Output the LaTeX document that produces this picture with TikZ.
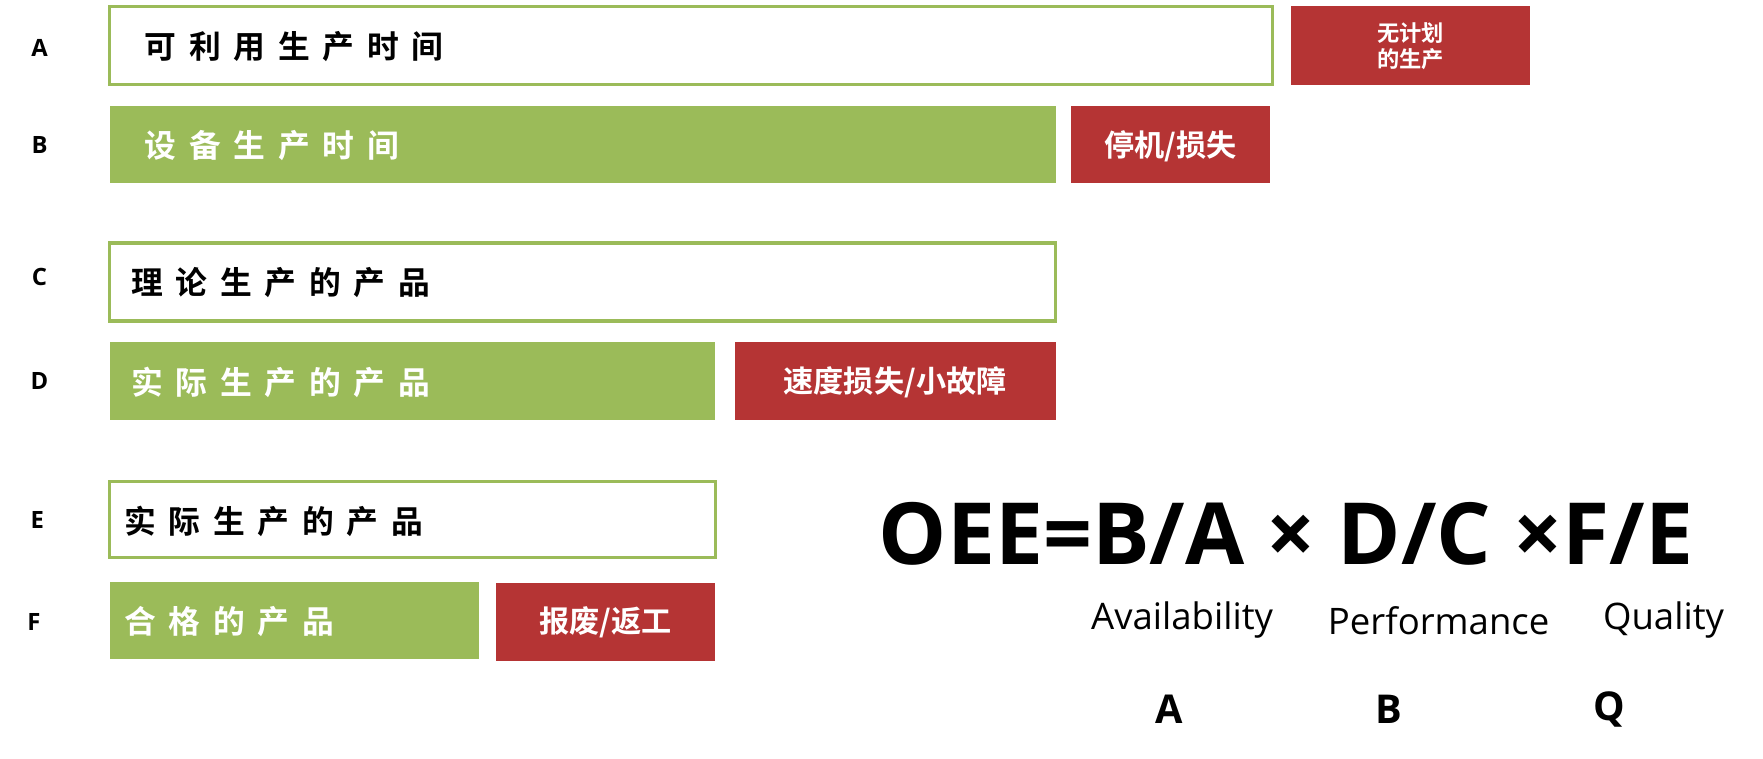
\documentclass[tikz,border=0pt]{standalone}
\usepackage{fontspec}
\setmainfont{Open Sans}
\newfontfamily\cjk{Noto Sans CJK SC}[BoldFont=* Bold]
\newfontfamily\cjksp{Noto Sans CJK SC Bold}[LetterSpace=40]
\definecolor{gr}{HTML}{9BBB59}
\definecolor{rd}{HTML}{B53434}
\begin{document}
\begin{tikzpicture}[x=0.05cm,y=-0.05cm,
  wbox/.style={draw=gr,line width=4pt,fill=white},
  gbox/.style={fill=gr},
  rbox/.style={fill=rd},
  lbl/.style={font=\fontsize{30}{36}\selectfont\bfseries},
  btxt/.style={anchor=west,font=\fontsize{40}{48}\selectfont\cjksp,inner sep=0},
  rtxt/.style={text=white,font=\fontsize{38}{44}\selectfont\cjk\bfseries,align=center,inner sep=0},
  sub/.style={font=\fontsize{46}{54}\selectfont},
  abq/.style={font=\fontsize{50}{60}\selectfont\bfseries}]
\useasboundingbox (0,0) rectangle (1560,671);
% row A
\draw[wbox] (97,6) rectangle (1126,75);
\node[btxt] (ta) at (128,41) {可利用生产时间};
\fill[rbox] (1142,5) rectangle (1354,75);
\node[rtxt,font=\fontsize{28}{32}\selectfont\cjk\bfseries] (ra) at (1248,41) {无计划\\的生产};
% row B
\fill[gbox] (97,94) rectangle (934,162);
\node[btxt,text=white] (tb) at (128,129) {设备生产时间};
\fill[rbox] (948,94) rectangle (1124,162);
\node[rtxt] (rb) at (1036,129) {停机/损失};
% row C
\draw[wbox] (97,215) rectangle (934,284);
\node[btxt] (tc) at (116,250) {理论生产的产品};
% row D
\fill[gbox] (97,303) rectangle (633,372);
\node[btxt,text=white] (td) at (116,338) {实际生产的产品};
\fill[rbox] (650,303) rectangle (934,372);
\node[rtxt] (rd) at (792,338) {速度损失/小故障};
% row E
\draw[wbox] (97,426) rectangle (633,493);
\node[btxt] (te) at (110,461) {实际生产的产品};
% row F
\fill[gbox] (97,515) rectangle (424,583);
\node[btxt,text=white] (tf) at (110,550) {合格的产品};
\fill[rbox] (439,516) rectangle (633,585);
\node[rtxt] (rf) at (536,551) {报废/返工};
% letters
\node[lbl] (la) at (35,42) {A};
\node[lbl] (lb) at (35,128) {B};
\node[lbl] (lc) at (35,245) {C};
\node[lbl] (ld) at (35,337) {D};
\node[lbl] (le) at (33,460) {E};
\node[lbl] (lf) at (30,550) {F};
% formula
\node[font=\fontsize{108}{120}\selectfont\bfseries,inner sep=0] (oee) at (1138,472) {OEE=B/A × D/C ×F/E};
\node[sub] (av) at (1046,549) {Availability};
\node[sub] (pf) at (1273,549) {Performance};
\node[sub] (ql) at (1472,549) {Quality};
\node[abq] (qa) at (1035,628) {A};
\node[abq] (qb) at (1229,628) {B};
\node[abq] (qq) at (1424,628) {Q};
\end{tikzpicture}
\end{document}
